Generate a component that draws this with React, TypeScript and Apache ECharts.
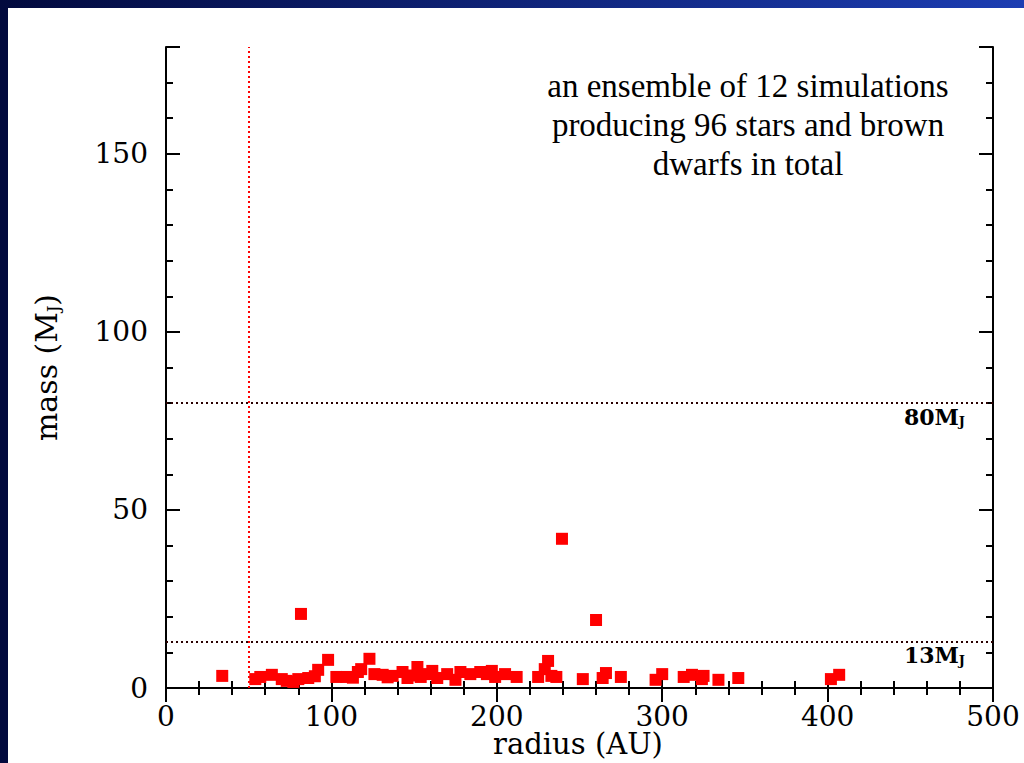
import React, { useEffect, useRef } from "react";
import * as echarts from "echarts";

// companions: radius (AU) and mass (M_J)
const radiusAU: number[] = [
  34, 54, 57, 64, 70, 73, 77, 80, 81.6, 86, 90, 92, 98, 103, 109, 113, 116, 118, 123, 126,
  131, 134, 137, 143, 146, 149, 152, 154, 158, 161, 164, 170, 175, 178, 184, 190, 194, 197, 199, 205,
  212, 225, 229, 231, 233, 236, 239.4, 252, 260, 264, 266, 275, 296, 300, 313, 318, 324, 325, 334, 346,
  402, 407,
];
const massMJ: number[] = [
  3.4, 2.5, 3.1, 3.7, 2.5, 2.0, 1.7, 2.5, 20.8, 2.8, 3.3, 5.1, 7.9, 3.1, 3.1, 2.9, 4.5, 5.3, 8.2, 3.9,
  3.7, 3.0, 3.4, 4.5, 2.8, 3.5, 5.9, 3.1, 3.9, 4.8, 2.8, 3.9, 2.3, 4.5, 3.9, 4.5, 3.9, 4.8, 3.1, 3.9,
  3.1, 3.1, 5.3, 7.6, 3.4, 3.1, 41.9, 2.5, 19.1, 2.8, 4.2, 3.1, 2.3, 3.9, 3.1, 3.7, 2.5, 3.4, 2.3, 2.8,
  2.5, 3.7,
];

const xRange: number[] = [0, 500];
const yRange: number[] = [0, 180];
const xMajorStep = 100;
const yMajorStep = 50;
const yMinorStep = 10;
const innerRadiusAU = 50; // vertical dotted line
const massLimits: number[] = [80, 13]; // horizontal dotted lines
const massLimitLabels: string[] = ["80", "13"];
const xTitle = "radius (AU)";
const noteLines: string[] = [
  "an ensemble of 12 simulations",
  "producing 96 stars and brown",
  "dwarfs in total",
];

const TICK_FONT = "DejaVu Serif";

export default function App() {
  const ref = useRef<HTMLDivElement>(null);

  useEffect(() => {
    document.body.style.margin = "0";
    const chart = echarts.init(ref.current!, null, { renderer: "svg" });

    const axisLine = { show: true, lineStyle: { color: "#000", width: 2 } };
    const tickLong = { show: true, inside: true, length: 14, lineStyle: { color: "#000", width: 2 } };
    const tickShort = { show: true, inside: true, length: 7, lineStyle: { color: "#000", width: 2 } };

    const xBase = (pos: "bottom" | "top", labels: boolean) => ({
      type: "value",
      position: pos,
      min: xRange[0],
      max: xRange[1],
      interval: xMajorStep,
      axisLine,
      axisTick: tickLong,
      minorTick: { show: true, splitNumber: 5, length: 7, lineStyle: { color: "#000", width: 2 } },
      splitLine: { show: false },
      axisLabel: labels
        ? { show: true, margin: 14, color: "#000", fontFamily: TICK_FONT, fontSize: 28 }
        : { show: false },
    });

    const yMinor = (pos: "left" | "right", labels: boolean) => ({
      type: "value",
      position: pos,
      min: yRange[0],
      max: yRange[1],
      interval: yMinorStep,
      axisLine,
      axisTick: tickShort,
      splitLine: { show: false },
      axisLabel: labels
        ? {
            show: true,
            margin: 18,
            color: "#000",
            fontFamily: TICK_FONT,
            fontSize: 28,
            formatter: (v: number) => (v % yMajorStep === 0 ? String(v) : ""),
          }
        : { show: false },
      name: labels ? "mass (M{j|J})" : "",
      nameLocation: "middle",
      nameGap: 105,
      nameTextStyle: {
        color: "#000",
        fontFamily: TICK_FONT,
        fontSize: 30,
        rich: { j: { fontFamily: TICK_FONT, fontSize: 16, padding: [14, 0, 0, 0], color: "#000" } },
      },
    });

    const yMajor = (pos: "left" | "right") => ({
      type: "value",
      position: pos,
      min: yRange[0],
      max: yRange[1],
      interval: yMajorStep,
      axisLine: { show: false },
      axisTick: tickLong,
      splitLine: { show: false },
      axisLabel: { show: false },
    });

    const dotted = [2, 3];

    const option: any = {
      animation: false,
      backgroundColor: "#ffffff",
      grid: {
        left: 166,
        right: 31,
        top: 47,
        bottom: 75,
        containLabel: false,
        outerBoundsMode: "none",
      },
      xAxis: [xBase("bottom", true), xBase("top", false)],
      yAxis: [yMinor("left", true), yMajor("left"), yMinor("right", false), yMajor("right")],
      graphic: [
        { type: "rect", shape: { x: 0, y: 0, width: 8, height: 763 }, style: { fill: "#020a3e" }, z: 100 },
        {
          type: "rect",
          shape: { x: 0, y: 0, width: 1024, height: 8 },
          style: {
            fill: new echarts.graphic.LinearGradient(0, 0, 1, 0, [
              { offset: 0, color: "#020a3e" },
              { offset: 1, color: "#1c3db2" },
            ]),
          },
          z: 100,
        },
        {
          type: "text",
          x: 578,
          y: 744,
          style: {
            text: xTitle,
            fontFamily: TICK_FONT,
            fontSize: 29,
            fill: "#000",
            align: "center",
            verticalAlign: "middle",
          },
        },
        {
          type: "text",
          x: 748,
          y: 66,
          style: {
            text: noteLines.join("\n"),
            fontFamily: "Liberation Serif",
            fontSize: 33,
            lineHeight: 39,
            fill: "#000",
            align: "center",
            verticalAlign: "top",
          },
        },
      ],
      series: [
        {
          type: "scatter",
          xAxisIndex: 0,
          yAxisIndex: 0,
          symbol: "rect",
          symbolSize: 12,
          itemStyle: { color: "#ff0000", opacity: 1 },
          data: radiusAU.map((r, i) => [r, massMJ[i]]),
          z: 5,
          markLine: {
            silent: true,
            symbol: "none",
            animation: false,
            data: [
              {
                xAxis: innerRadiusAU,
                lineStyle: { color: "#ff0000", width: 2, type: dotted, opacity: 1 },
                label: { show: false },
              },
              ...massLimits.map((m, i) => ({
                yAxis: m,
                lineStyle: { color: "#2a0000", width: 2, type: dotted, opacity: 1 },
                label: {
                  show: true,
                  position: "insideEndBottom",
                  distance: [28, 2],
                  formatter: massLimitLabels[i] + "M{j|J}",
                  color: "#000",
                  fontFamily: TICK_FONT,
                  fontSize: 22,
                  fontWeight: "bold",
                  rich: {
                    j: { fontFamily: TICK_FONT, fontSize: 13, fontWeight: "bold", padding: [10, 0, 0, 0], color: "#000" },
                  },
                },
              })),
            ],
          },
        },
      ],
    };

    chart.setOption(option);
    return () => chart.dispose();
  }, []);

  return (
    <div
      ref={ref}
      style={{ position: "fixed", left: 0, top: 0, width: 1024, height: 763, background: "#fff" }}
    />
  );
}
